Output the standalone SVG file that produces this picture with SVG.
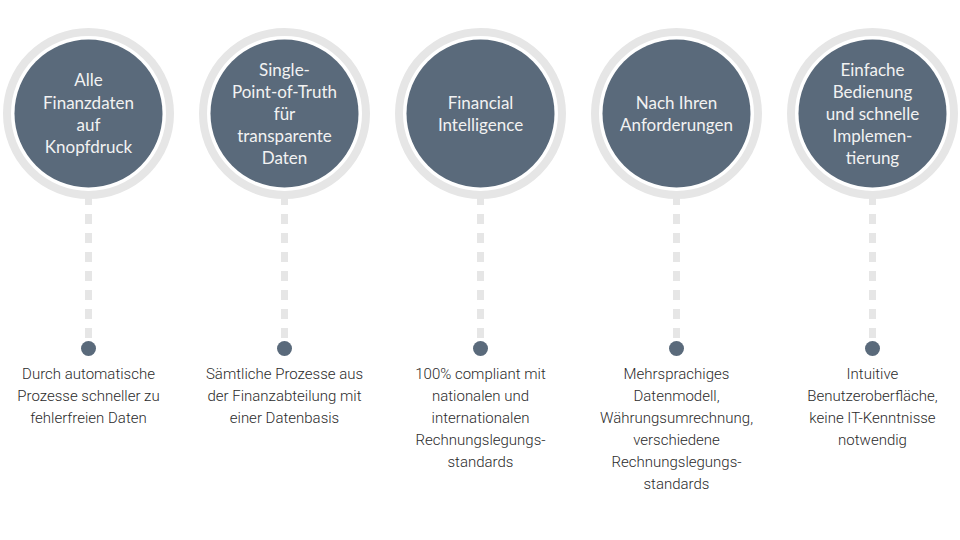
<svg xmlns="http://www.w3.org/2000/svg" width="960" height="540" viewBox="0 0 960 540">
<style>
.ring{fill:none;stroke:#e6e6e6;stroke-width:8}
.core{fill:#5a6a7b}
.ct{font-family:Lato,"Noto Sans",sans-serif;font-size:17px;fill:#f2f2f2;text-anchor:middle}
.bt{font-family:Roboto,"Liberation Sans",sans-serif;font-size:15px;font-weight:300;fill:#2b2b2b;text-anchor:middle}
.dash{stroke:#e6e6e6;stroke-width:7;stroke-dasharray:10 9}
.dot{fill:#5a6a7b}
</style>
<rect width="960" height="540" fill="#ffffff"/>
<g id="connectors">
<line class="dash" x1="88.5" y1="195" x2="88.5" y2="338"/>
<line class="dash" x1="284.5" y1="195" x2="284.5" y2="338"/>
<line class="dash" x1="480.5" y1="195" x2="480.5" y2="338"/>
<line class="dash" x1="676.5" y1="195" x2="676.5" y2="338"/>
<line class="dash" x1="872.5" y1="195" x2="872.5" y2="338"/>
</g>
<g id="node1">
<circle class="ring" cx="88.5" cy="113.5" r="81.5"/>
<circle class="core" cx="88.5" cy="113.5" r="74"/>
<text class="ct"><tspan x="88.5" y="86">Alle</tspan><tspan x="88.5" y="108.5">Finanzdaten</tspan><tspan x="88.5" y="131">auf</tspan><tspan x="88.5" y="153">Knopfdruck</tspan></text>
<circle class="dot" cx="88.5" cy="348.5" r="7.5"/>
<text class="bt"><tspan x="88.5" y="379">Durch automatische</tspan><tspan x="88.5" y="401">Prozesse schneller zu</tspan><tspan x="88.5" y="423">fehlerfreien Daten</tspan></text>
</g>
<g id="node2">
<circle class="ring" cx="284.5" cy="113.5" r="81.5"/>
<circle class="core" cx="284.5" cy="113.5" r="74"/>
<text class="ct"><tspan x="284.5" y="76">Single-</tspan><tspan x="284.5" y="98">Point-of-Truth</tspan><tspan x="284.5" y="120">für</tspan><tspan x="284.5" y="142">transparente</tspan><tspan x="284.5" y="164">Daten</tspan></text>
<circle class="dot" cx="284.5" cy="348.5" r="7.5"/>
<text class="bt"><tspan x="284.5" y="379">Sämtliche Prozesse aus</tspan><tspan x="284.5" y="401">der Finanzabteilung mit</tspan><tspan x="284.5" y="423">einer Datenbasis</tspan></text>
</g>
<g id="node3">
<circle class="ring" cx="480.5" cy="113.5" r="81.5"/>
<circle class="core" cx="480.5" cy="113.5" r="74"/>
<text class="ct"><tspan x="480.5" y="109">Financial</tspan><tspan x="480.5" y="131">Intelligence</tspan></text>
<circle class="dot" cx="480.5" cy="348.5" r="7.5"/>
<text class="bt"><tspan x="480.5" y="379">100% compliant mit</tspan><tspan x="480.5" y="401">nationalen und</tspan><tspan x="480.5" y="423">internationalen</tspan><tspan x="480.5" y="445">Rechnungslegungs-</tspan><tspan x="480.5" y="467">standards</tspan></text>
</g>
<g id="node4">
<circle class="ring" cx="676.5" cy="113.5" r="81.5"/>
<circle class="core" cx="676.5" cy="113.5" r="74"/>
<text class="ct"><tspan x="676.5" y="109">Nach Ihren</tspan><tspan x="676.5" y="131">Anforderungen</tspan></text>
<circle class="dot" cx="676.5" cy="348.5" r="7.5"/>
<text class="bt"><tspan x="676.5" y="379">Mehrsprachiges</tspan><tspan x="676.5" y="401">Datenmodell,</tspan><tspan x="676.5" y="423">Währungsumrechnung,</tspan><tspan x="676.5" y="445">verschiedene</tspan><tspan x="676.5" y="467">Rechnungslegungs-</tspan><tspan x="676.5" y="489">standards</tspan></text>
</g>
<g id="node5">
<circle class="ring" cx="872.5" cy="113.5" r="81.5"/>
<circle class="core" cx="872.5" cy="113.5" r="74"/>
<text class="ct"><tspan x="872.5" y="76">Einfache</tspan><tspan x="872.5" y="98">Bedienung</tspan><tspan x="872.5" y="120">und schnelle</tspan><tspan x="872.5" y="142">Implemen-</tspan><tspan x="872.5" y="164">tierung</tspan></text>
<circle class="dot" cx="872.5" cy="348.5" r="7.5"/>
<text class="bt"><tspan x="872.5" y="379">Intuitive</tspan><tspan x="872.5" y="401">Benutzeroberfläche,</tspan><tspan x="872.5" y="423">keine IT-Kenntnisse</tspan><tspan x="872.5" y="445">notwendig</tspan></text>
</g>
</svg>
